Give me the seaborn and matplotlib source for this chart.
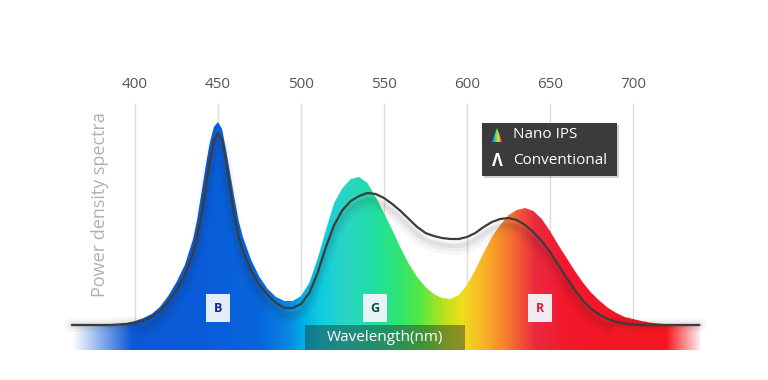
import numpy as np
import pandas as pd
import matplotlib.pyplot as plt
import seaborn as sns
from matplotlib.colors import LinearSegmentedColormap, Normalize
from matplotlib.patches import FancyBboxPatch, Rectangle, Polygon

# wavelength grid (nm) and read-off heights (arbitrary units, baseline = 0)
wavelength = [362, 380, 385, 390, 395, 400, 405, 410, 415, 420, 425, 430, 435, 437.5, 440, 442.5, 445,
              447.5, 450, 452.5, 455, 457.5, 460, 462.5, 465, 470, 475, 480, 485, 490, 495, 500, 505,
              510, 515, 520, 525, 530, 535, 540, 545, 550, 555, 560, 565, 570, 575, 580, 585, 590,
              595, 600, 605, 610, 615, 620, 625, 630, 635, 640, 645, 650, 655, 660, 665,
              670, 675, 680, 685, 690, 695, 700, 705, 710, 715, 720, 730, 740]

nano_ips = [0, 0, 0.5, 1, 2, 4, 7, 11, 18, 29, 43, 60, 86, 106, 132, 158, 182,
            198, 203, 196, 174, 150, 126, 104, 88, 65, 48, 36, 28, 24, 24, 29, 42,
            66, 95, 122, 137, 146, 148, 142, 128, 112, 95, 77, 61, 48, 38, 31, 27, 26,
            30, 40, 55, 72, 88, 100, 110, 115, 117, 114, 106, 94, 80, 67, 54,
            42, 32, 24, 17, 12, 8, 6, 4, 2.5, 1.5, 1, 0.5, 0]

conventional = [0, 0, 0, 0.5, 1, 2, 4, 8, 14, 23, 35, 50, 72, 88, 110, 136, 163,
                184, 192, 185, 162, 134, 108, 88, 74, 54, 40, 30, 22, 17, 17, 21, 32,
                52, 78, 100, 115, 124, 129, 132, 131, 127, 121, 114, 106, 98, 92, 89, 87, 86,
                86, 88, 92, 98, 103, 106, 107, 105, 100, 93, 84, 73, 60, 47, 35,
                24, 16, 10, 6, 3, 1.5, 0.5, 0, 0, 0, 0, 0, 0]

ticks = [400, 450, 500, 550, 600, 650, 700]
band_labels = ["B", "G", "R"]
band_centers = [450, 544.5, 644]
band_colors = ["#13288a", "#0d4a3f", "#e0163c"]

# spectrum colours along wavelength
spec_nm = [350, 440, 475, 492, 502, 512, 527, 542, 557, 572, 586, 597, 610, 622, 632, 641, 660, 745]
spec_col = ["#0a55d2", "#0a5cd8", "#0766dc", "#0a86e2", "#00b4e4", "#12cde0", "#2ad5c4", "#20dea6",
            "#2de478", "#55e843", "#b8e21c", "#f0de1e", "#f8b428", "#f7862e", "#f05636", "#ea2a40",
            "#f2182c", "#f51616"]

df = pd.DataFrame({"wl": wavelength, "nano": nano_ips, "conv": conventional})

sns.set_theme(style="white")
plt.rcParams["font.family"] = ["Open Sans", "DejaVu Sans"]

fig = plt.figure(figsize=(7.68, 3.8), dpi=100)
ax = fig.add_axes([0, 0, 1, 1])
xmin, xmax = 400 - 135 / 1.66, 400 + (768 - 135) / 1.66
ax.set_xlim(xmin, xmax)
ax.set_ylim(-55, 325)
ax.axis("off")

# grid + top tick labels
ax.vlines(ticks, -25, 222, color="#dedede", lw=1, zorder=0)
for t in ticks:
    ax.text(t, 240, str(t), ha="center", va="center", fontsize=11, color="#555555")

cmap = LinearSegmentedColormap.from_list(
    "spec", [((n - spec_nm[0]) / (spec_nm[-1] - spec_nm[0]), c) for n, c in zip(spec_nm, spec_col)])
norm = Normalize(spec_nm[0], spec_nm[-1])
xs = np.linspace(df.wl.min(), df.wl.max(), 800)

# nano IPS filled spectrum with gradient
fill = ax.fill_between(df.wl, 0, df.nano, color="none", lw=0)
grad = ax.imshow(xs[None, :], extent=(xs[0], xs[-1], 0, df.nano.max() + 2), aspect="auto",
                 origin="lower", cmap=cmap, norm=norm, zorder=2)
grad.set_clip_path(fill.get_paths()[0], transform=ax.transData)

# band under baseline, fading out on both ends
rgba = cmap(norm(xs))
fade = np.clip((xs - 362) / 36, 0, 1) * np.clip((742 - xs) / 22, 0, 1)
rgba[:, 3] = fade
ax.imshow(rgba[None, :, :], extent=(xs[0], xs[-1], -25, 0), aspect="auto", origin="lower", zorder=2)

# wavelength box
ax.add_patch(Rectangle((502.5, -25), 96, 25, fc="#1e3030", alpha=0.45, lw=0, zorder=3))
ax.text(550.5, -12.5, "Wavelength(nm)", ha="center", va="center", fontsize=11, color="white", zorder=4)

# conventional curve with soft shadow
for lw, a, off in [(10, 0.035, 9), (6, 0.05, 8), (3, 0.06, 7)]:
    ax.plot(df.wl, df.conv - off * (df.conv > 3), color="#222222", lw=lw, alpha=a, zorder=3,
            solid_capstyle="round")
sns.lineplot(data=df, x="wl", y="conv", ax=ax, color="#3c3c3c", lw=1.6, zorder=5)
ax.set_xlim(xmin, xmax)
ax.set_ylim(-55, 325)

# B / G / R tags
for lab, c, col in zip(band_labels, band_centers, band_colors):
    ax.text(c, 17, lab, ha="center", va="center", fontsize=9, fontweight="bold", color=col,
            zorder=6, bbox=dict(boxstyle="square,pad=0.6", fc="#f2f6fc", ec="none", alpha=0.95))

# y label
ax.text(100 / 768, 1 - 205 / 380, "Power density spectra", transform=ax.transAxes, rotation=90,
        ha="center", va="center", fontsize=13, color="#b0b0b0")

# legend box
tr = ax.transAxes
ax.add_patch(FancyBboxPatch((484 / 768, 1 - 178 / 380), 135 / 768, 53 / 380, boxstyle="square,pad=0",
                            fc="#000000", alpha=0.18, lw=0, transform=tr, zorder=6))
ax.add_patch(FancyBboxPatch((482 / 768, 1 - 176 / 380), 135 / 768, 53 / 380, boxstyle="square,pad=0",
                            fc="#3b3b3d", lw=0, transform=tr, zorder=7))
icon = Polygon([(492 / 768, 1 - 142 / 380), (497 / 768, 1 - 128 / 380), (502 / 768, 1 - 142 / 380)],
               closed=True, transform=tr, fc="none", lw=0, zorder=8)
ax.add_patch(icon)
ic = ax.imshow(np.linspace(0, 1, 50)[None, :], extent=(492 / 768, 502 / 768, 1 - 142 / 380, 1 - 128 / 380),
               transform=tr, aspect="auto", cmap=LinearSegmentedColormap.from_list(
                   "ic", ["#1a6ee8", "#20d8b0", "#f0e020", "#f02828"]), zorder=8)
ic.set_clip_path(icon)
ax.text(497 / 768, 1 - 161 / 380, "Λ", transform=tr, ha="center", va="center", fontsize=12,
        color="white", fontweight="bold", zorder=8)
ax.text(513 / 768, 1 - 135 / 380, "Nano IPS", transform=tr, ha="left", va="center", fontsize=11,
        color="white", zorder=8)
ax.text(513 / 768, 1 - 161 / 380, "Conventional", transform=tr, ha="left", va="center", fontsize=11,
        color="white", zorder=8)

plt.savefig("out.png", dpi=100)
